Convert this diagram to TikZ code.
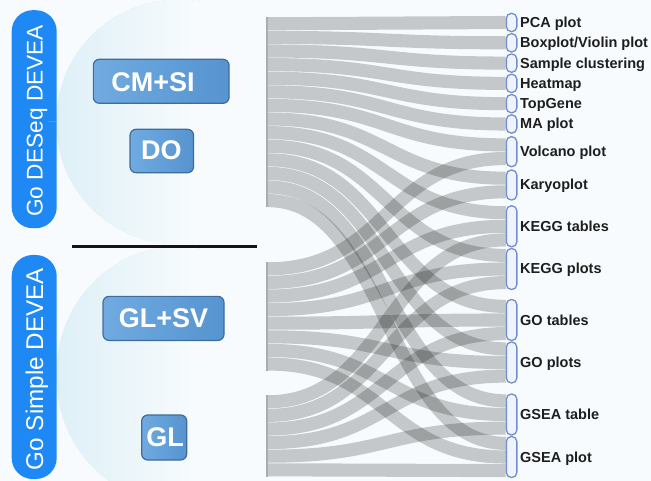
\documentclass[tikz,border=0pt]{standalone}
\usepackage{fontspec}
\setmainfont{Liberation Sans}
\usetikzlibrary{calc}
\definecolor{bgc}{RGB}{247,251,253}
\definecolor{disc}{RGB}{222,240,247}
\definecolor{pillblue}{RGB}{30,137,245}
\definecolor{boxl}{RGB}{112,170,224}
\definecolor{boxr}{RGB}{86,148,208}
\definecolor{boxline}{RGB}{62,108,156}
\definecolor{tgtline}{RGB}{112,142,208}
\definecolor{tgtfill}{RGB}{238,243,252}
\definecolor{labelc}{RGB}{30,30,30}
\definecolor{srcc}{RGB}{172,172,172}
\definecolor{tickc}{RGB}{128,140,160}
\pgfdeclarelayer{back}
\pgfdeclarelayer{mid}
\pgfsetlayers{back,mid,main}
\newcommand\sankeyband[2]{\draw[band] (#1) .. controls ($(#1)+(119,0)$) and ($(#2)+(-119,0)$) .. (#2);}
\begin{document}
\begin{tikzpicture}[x=1pt,y=-1pt,
  band/.style={draw=black, draw opacity=0.2, line width=13.1pt},
  tgt/.style={draw=tgtline, line width=1.3pt, fill=tgtfill, rounded corners=5pt, minimum width=10.5pt, inner sep=0pt},
  tlabel/.style={anchor=base west, inner sep=0pt, text=labelc, font=\fontsize{14.5pt}{17pt}\selectfont\bfseries},
  src/.style={fill=srcc, inner sep=0pt, minimum width=2pt},
  bluebox/.style={draw=boxline, line width=1.2pt, rounded corners=6pt, left color=boxl, right color=boxr, inner sep=0pt},
  boxtext/.style={anchor=base, text=white, font=\fontsize{27pt}{30pt}\selectfont\bfseries, inner sep=0pt},
  pill/.style={fill=pillblue, rounded corners=21pt, inner sep=0pt},
  pilltext/.style={anchor=base, text=white, rotate=90, inner sep=0pt}]
\useasboundingbox (0,0) rectangle (651,481);
\begin{pgfonlayer}{back}
  \fill[bgc] (0,0) rectangle (651,481);
  \begin{scope}
    \clip (178,122) circle [radius=122];
    \foreach \k in {0,...,34}{
      \pgfmathsetmacro\pct{100-\k*100/34}
      \fill[disc!\pct!bgc] ({56+\k*4},0) rectangle (200,250);
    }
  \end{scope}
  \begin{scope}
    \clip (178,375) ellipse [x radius=122, y radius=128];
    \foreach \k in {0,...,34}{
      \pgfmathsetmacro\pct{100-\k*100/34}
      \fill[disc!\pct!bgc] ({56+\k*4},240) rectangle (200,481);
    }
  \end{scope}
\end{pgfonlayer}

% left pills
\node[pill, minimum width=45pt, minimum height=218pt] (deseq) at (34.2,119.2) {};
\node[pilltext, font=\fontsize{22.7pt}{26pt}\selectfont] (deseqtxt) at (42.7,120.9) {Go DESeq DEVEA};
\node[pill, minimum width=45pt, minimum height=224pt] (simple) at (34.2,367) {};
\node[pilltext, font=\fontsize{24.2pt}{28pt}\selectfont] (simpletxt) at (43,369.2) {Go Simple DEVEA};
\draw[tickc, line width=1.5pt] (48,121.7) -- (56,121.7);

% separator
\draw[black!92, line width=2.2pt] (72,246.5) -- (257,246.5);

% method boxes
\node[bluebox, minimum width=135.7pt, minimum height=44pt] (cmsi) at (161.2,81.3) {};
\node[boxtext] (cmsitxt) at (152.9,91.7) {CM+SI};
\node[bluebox, minimum width=63.5pt, minimum height=43.4pt] (do) at (161.8,151) {};
\node[boxtext] (dotxt) at (161.3,160) {DO};
\node[bluebox, minimum width=121pt, minimum height=44pt] (glsv) at (163.5,318.4) {};
\node[boxtext] (glsvtxt) at (163.4,327) {GL+SV};
\node[bluebox, minimum width=45pt, minimum height=45pt] (gl) at (164.2,437.5) {};
\node[boxtext] (gltxt) at (165,446.5) {GL};

% source nodes
\node[src, minimum height=190.4pt] (srcU) at (267,112.2) {};
\node[src, minimum height=108.8pt] (srcS) at (267,316.4) {};
\node[src, minimum height=81.6pt] (srcG) at (267,435.8) {};
\foreach \i in {0,...,13}{\coordinate (U\i) at (268,{17+13.6*(\i+0.5)});}
\foreach \i in {0,...,7}{\coordinate (S\i) at (268,{262+13.6*(\i+0.5)});}
\foreach \i in {0,...,5}{\coordinate (G\i) at (268,{395+13.6*(\i+0.5)});}

% target pills
\node[tgt, minimum height=18.3pt] (tpca) at (511.6,22.5) {};
\node[tgt, minimum height=18.3pt] (tbox) at (511.6,42.8) {};
\node[tgt, minimum height=18.3pt] (tsam) at (511.6,63.1) {};
\node[tgt, minimum height=18.3pt] (theat) at (511.6,83.4) {};
\node[tgt, minimum height=18.3pt] (ttop) at (511.6,103.7) {};
\node[tgt, minimum height=18.3pt] (tma) at (511.6,124.0) {};
\node[tgt, minimum height=30pt] (tvol) at (511.6,151.7) {};
\node[tgt, minimum height=30pt] (tkar) at (511.6,185.0) {};
\node[tgt, minimum height=41pt] (tkt) at (511.6,226.3) {};
\node[tgt, minimum height=41pt] (tkp) at (511.6,269.0) {};
\node[tgt, minimum height=41pt] (tgot) at (511.6,320.0) {};
\node[tgt, minimum height=41pt] (tgop) at (511.6,362.5) {};
\node[tgt, minimum height=41pt] (tgst) at (511.6,414.5) {};
\node[tgt, minimum height=41pt] (tgsp) at (511.6,457.0) {};

% labels
\node[tlabel] (lpca) at (520,27.5) {PCA plot};
\node[tlabel] (lbox) at (520,47.8) {Boxplot/Violin plot};
\node[tlabel] (lsam) at (520,68.1) {Sample clustering};
\node[tlabel] (lheat) at (520,88.4) {Heatmap};
\node[tlabel] (ltop) at (520,108.7) {TopGene};
\node[tlabel] (lma) at (520,129.0) {MA plot};
\node[tlabel] (lvol) at (520,156.7) {Volcano plot};
\node[tlabel] (lkar) at (520,190.0) {Karyoplot};
\node[tlabel] (lkt) at (520,231.3) {KEGG tables};
\node[tlabel] (lkp) at (520,274.0) {KEGG plots};
\node[tlabel] (lgot) at (520,325.0) {GO tables};
\node[tlabel] (lgop) at (520,367.5) {GO plots};
\node[tlabel] (lgst) at (520,419.5) {GSEA table};
\node[tlabel] (lgsp) at (520,462.0) {GSEA plot};

% band end coordinates
\coordinate (vol1) at ($(tvol.west)+(0,-6.8)$);
\coordinate (vol2) at ($(tvol.west)+(0,6.8)$);
\coordinate (kar1) at ($(tkar.west)+(0,-6.8)$);
\coordinate (kar2) at ($(tkar.west)+(0,6.8)$);
\foreach \t in {kt,kp,got,gop,gst,gsp}{
  \coordinate (\t1) at ($(t\t.west)+(0,-13.6)$);
  \coordinate (\t2) at (t\t.west);
  \coordinate (\t3) at ($(t\t.west)+(0,13.6)$);
}

\begin{pgfonlayer}{mid}
\sankeyband{U0}{tpca.west}
\sankeyband{U1}{tbox.west}
\sankeyband{U2}{tsam.west}
\sankeyband{U3}{theat.west}
\sankeyband{U4}{ttop.west}
\sankeyband{U5}{tma.west}
\sankeyband{U6}{vol1}
\sankeyband{U7}{kar1}
\sankeyband{U8}{kt1}
\sankeyband{U9}{kp1}
\sankeyband{U10}{got1}
\sankeyband{U11}{gop1}
\sankeyband{U12}{gst1}
\sankeyband{U13}{gsp1}
\sankeyband{S0}{vol2}
\sankeyband{S1}{kar2}
\sankeyband{S2}{kt2}
\sankeyband{S3}{kp2}
\sankeyband{S4}{got2}
\sankeyband{S5}{gop2}
\sankeyband{S6}{gst2}
\sankeyband{S7}{gsp2}
\sankeyband{G0}{kt3}
\sankeyband{G1}{kp3}
\sankeyband{G2}{got3}
\sankeyband{G3}{gop3}
\sankeyband{G4}{gst3}
\sankeyband{G5}{gsp3}
\end{pgfonlayer}
\end{tikzpicture}
\end{document}
